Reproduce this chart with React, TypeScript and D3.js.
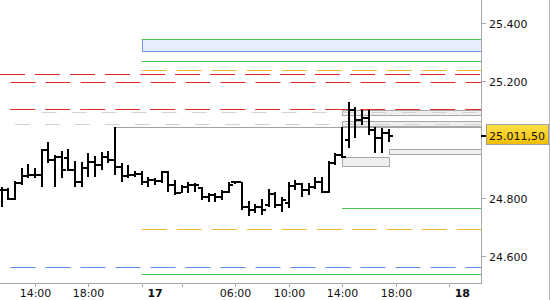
import React from 'react';
import * as d3 from 'd3';

const W = 550;
const H = 300;

// OHLC bars (30-minute), index 0 .. 58
const barOpen = [24826, 24826, 24795, 24850, 24873, 24877, 24877, 24962, 24928, 24938, 24935, 24894, 24853, 24901, 24921, 24911, 24938, 24928, 24904, 24873, 24877, 24880, 24853, 24860, 24856, 24887, 24843, 24815, 24836, 24843, 24832, 24802, 24809, 24802, 24819, 24853, 24853, 24768, 24757, 24768, 24774, 24812, 24774, 24781, 24839, 24846, 24826, 24836, 24853, 24819, 24918, 24945, 24997, 25099, 25065, 25072, 25031, 25003, 25020];
const barHigh = [24836, 24832, 24856, 24901, 24915, 24901, 24966, 24990, 24945, 24959, 24966, 24925, 24921, 24952, 24942, 24956, 24959, 25041, 24918, 24911, 24891, 24891, 24870, 24867, 24891, 24891, 24860, 24843, 24853, 24850, 24836, 24815, 24815, 24826, 24853, 24856, 24853, 24788, 24778, 24795, 24829, 24819, 24802, 24853, 24860, 24850, 24850, 24870, 24870, 24925, 24952, 25041, 25126, 25109, 25099, 25099, 25041, 25038, 25034];
const barLow = [24768, 24791, 24791, 24843, 24867, 24867, 24836, 24918, 24836, 24867, 24891, 24836, 24836, 24870, 24870, 24894, 24918, 24877, 24853, 24867, 24870, 24843, 24836, 24843, 24850, 24819, 24809, 24815, 24815, 24819, 24791, 24785, 24785, 24791, 24815, 24846, 24757, 24737, 24747, 24740, 24768, 24764, 24750, 24764, 24826, 24802, 24809, 24829, 24815, 24815, 24911, 24935, 24969, 25003, 25048, 25014, 24952, 24952, 24990];
const barClose = [24826, 24795, 24850, 24873, 24877, 24877, 24962, 24928, 24938, 24894, 24894, 24853, 24901, 24921, 24911, 24938, 24928, 24904, 24873, 24877, 24880, 24853, 24860, 24856, 24887, 24843, 24815, 24836, 24843, 24843, 24802, 24809, 24802, 24819, 24843, 24853, 24768, 24757, 24768, 24757, 24812, 24774, 24791, 24839, 24846, 24826, 24836, 24853, 24819, 24918, 24945, 24938, 25099, 25065, 25072, 25031, 25003, 25020, 25011.5];

// time axis
const timeTickIdx = [5, 13, 21, 27, 35, 43, 51, 59, 67];
const timeTickLabels = ['14:00', '18:00', '', '', '06:00', '10:00', '14:00', '18:00', ''];
const dayLabelIdx = [23, 69];
const dayLabels = ['17', '18'];

// price axis
const priceTicks = [24600, 24800, 25000, 25200, 25400];

// horizontal levels
const lineValues = [25342, 25267, 25238, 25222, 25195, 25102, 25092, 25051, 25041, 24763, 24692, 24563, 24538];
const lineFrom = [21, 21, 21, -0.22, 1.35, 1.3, 6, 2, 17, 51, 21, 1.35, 21];
const lineKind = ['green', 'green', 'orange', 'red', 'red', 'red', 'grayDash', 'grayDash', 'gray', 'green', 'orange', 'blue', 'green'];

// zones
const zoneLow = [25301, 25084, 25044, 24948, 24908];
const zoneHigh = [25342, 25101, 25062, 24965, 24938];
const zoneFrom = [21, 51, 51, 58, 51];
const zoneTo = [null, null, null, null, 58];
const zoneKind = ['blue', 'gray', 'gray', 'gray', 'gray'];

const lineStyle: Record<string, { stroke: string; dash?: string }> = {
  green: { stroke: '#44c444' },
  orange: { stroke: '#f5b731', dash: '25 10' },
  red: { stroke: '#e52a2a', dash: '25 10' },
  blue: { stroke: '#5b8def', dash: '25 10' },
  grayDash: { stroke: '#d2d2d2', dash: '15 15' },
  gray: { stroke: '#a4a4a4' },
};
const zoneStyle: Record<string, { fill: string; stroke: string }> = {
  blue: { fill: '#e7eefb', stroke: '#6b98e6' },
  gray: { fill: '#efefef', stroke: '#a8a8a8' },
};

const AXIS_X = 481;
const AXIS_Y = 283;
const FONT = '"DejaVu Sans", Verdana, sans-serif';

export default function App() {
  const x = d3.scaleLinear().domain([0, 71.8]).range([1.5, AXIS_X]);
  const y = d3.scaleLinear().domain([24600, 25400]).range([256, 22.5]);
  const loc = d3.formatLocale({ decimal: ',', thousands: '.', grouping: [3], currency: ['', ''] });
  const fmtTick = loc.format(',.0f');
  const fmtPrice = loc.format(',.2f');
  const py = (v: number) => Math.round(y(v)) + 0.5;

  const last = barClose[barClose.length - 1];
  const lastY = y(last);

  return (
    <svg width={W} height={H} style={{ position: 'fixed', left: 0, top: 0, background: '#fff' }}>
      <defs>
        <linearGradient id="pg" x1="0" y1="0" x2="0" y2="1">
          <stop offset="0" stopColor="#ffe24a" />
          <stop offset="1" stopColor="#f3bd00" />
        </linearGradient>
        <clipPath id="plot">
          <rect x={0} y={0} width={AXIS_X} height={AXIS_Y} />
        </clipPath>
      </defs>
      <g clipPath="url(#plot)">
        {zoneLow.map((lo, i) => {
          const x0 = Math.round(x(zoneFrom[i])) + 0.5;
          const x1 = zoneTo[i] == null ? AXIS_X + 0.5 : Math.round(x(zoneTo[i] as number)) + 0.5;
          const yt = py(zoneHigh[i]);
          const yb = py(lo);
          const s = zoneStyle[zoneKind[i]];
          return <rect key={'z' + i} x={x0} y={yt} width={x1 - x0} height={yb - yt} fill={s.fill} stroke={s.stroke} strokeWidth={1} />;
        })}
        {lineValues.map((v, i) => {
          const s = lineStyle[lineKind[i]];
          const yy = py(v);
          return (
            <line key={'l' + i} x1={x(lineFrom[i])} x2={AXIS_X} y1={yy} y2={yy} stroke={s.stroke} strokeWidth={1} strokeDasharray={s.dash} />
          );
        })}
        {barOpen.map((o, i) => {
          const cx = Math.round(x(i));
          const yh = Math.round(y(barHigh[i]));
          const yl = Math.round(y(barLow[i]));
          const yo = Math.round(y(o));
          const yc = Math.round(y(barClose[i]));
          return (
            <g key={'b' + i} fill="#000">
              <rect x={cx - 1} y={yh} width={2} height={Math.max(2, yl - yh)} />
              <rect x={cx - 4} y={yo - 1} width={3} height={2} />
              <rect x={cx + 1} y={yc - 1} width={3} height={2} />
            </g>
          );
        })}
      </g>
      {/* axes */}
      <line x1={AXIS_X + 0.5} x2={AXIS_X + 0.5} y1={0} y2={AXIS_Y} stroke="#a8a8a8" />
      <line x1={0} x2={AXIS_X + 1} y1={AXIS_Y + 0.5} y2={AXIS_Y + 0.5} stroke="#a8a8a8" />
      <line x1={W - 0.5} x2={W - 0.5} y1={0} y2={H} stroke="#b8b8b8" />
      {priceTicks.filter((t) => Math.abs(y(t) - lastY) > 12).map((t) => {
        const yy = Math.round(y(t)) + 0.5;
        return (
          <g key={'p' + t}>
            <line x1={AXIS_X} x2={AXIS_X + 5} y1={yy} y2={yy} stroke="#a8a8a8" />
            <text x={489} y={yy + 4} fontFamily={FONT} fontSize={11} fill="#111">{fmtTick(t)}</text>
          </g>
        );
      })}
      {timeTickIdx.map((t, i) => {
        const xx = Math.round(x(t)) + 0.5;
        return (
          <g key={'t' + i}>
            <line x1={xx} x2={xx} y1={AXIS_Y} y2={AXIS_Y + 4} stroke="#a8a8a8" />
            {timeTickLabels[i] && (
              <text x={xx} y={297} textAnchor="middle" fontFamily={FONT} fontSize={11} fill="#111">{timeTickLabels[i]}</text>
            )}
          </g>
        );
      })}
      {dayLabelIdx.map((d, i) => (
        <text key={'d' + i} x={x(d)} y={297} textAnchor="middle" fontFamily={FONT} fontSize={11} fontWeight="bold" fill="#111">{dayLabels[i]}</text>
      ))}
      {/* current price */}
      <rect x={AXIS_X} y={Math.round(lastY) - 1} width={5} height={2} fill="#000" />
      <rect x={486.5} y={Math.round(lastY) - 11.5} width={62} height={20} fill="url(#pg)" stroke="#a0a0a0" />
      <text x={489} y={Math.round(lastY) + 4} fontFamily={FONT} fontSize={11} fill="#111">{fmtPrice(last)}</text>
    </svg>
  );
}
